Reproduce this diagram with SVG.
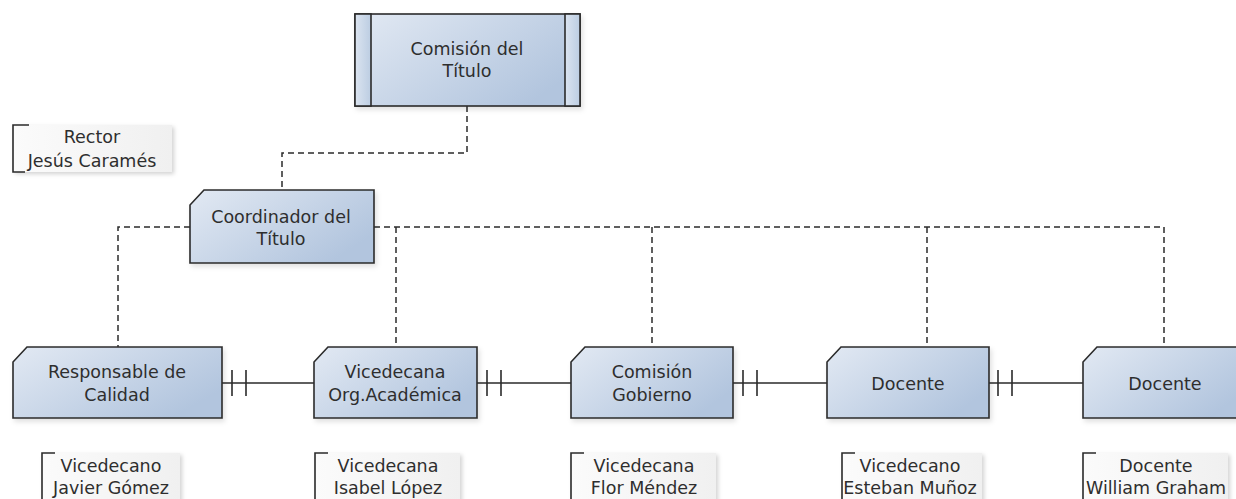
<svg xmlns="http://www.w3.org/2000/svg" width="1236" height="499" viewBox="0 0 1236 499">
  <style>
    .lbl { font-family: "DejaVu Sans", "Liberation Sans", sans-serif; font-size: 17.5px; fill: #2e2e2e; text-anchor: middle; }
    .box { fill: url(#boxFill); stroke: #2b2b2b; stroke-width: 1.6; filter: url(#shadow); }
    .strip { fill: url(#stripFill); stroke: #2b2b2b; stroke-width: 1.6; }
    .note { fill: url(#noteFill); stroke: none; filter: url(#noteShadow); }
    .bracket { fill: none; stroke: #2b2b2b; stroke-width: 1.6; }
    .dash { fill: none; stroke: #2b2b2b; stroke-width: 1.5; stroke-dasharray: 6 4; }
    .solid { fill: none; stroke: #2b2b2b; stroke-width: 1.6; }
  </style>
  <defs>
    <linearGradient id="boxFill" x1="0" y1="0" x2="1" y2="0.6">
      <stop offset="0" stop-color="#e2e9f3"/>
      <stop offset="1" stop-color="#b2c5de"/>
    </linearGradient>
    <linearGradient id="stripFill" x1="0" y1="0" x2="1" y2="0">
      <stop offset="0" stop-color="#dbe4f0"/>
      <stop offset="1" stop-color="#bccde2"/>
    </linearGradient>
    <linearGradient id="noteFill" x1="0" y1="0" x2="1" y2="0">
      <stop offset="0" stop-color="#fbfbfb"/>
      <stop offset="1" stop-color="#f0f0f0"/>
    </linearGradient>
    <filter id="shadow" x="-10%" y="-10%" width="130%" height="140%">
      <feDropShadow dx="2" dy="3" stdDeviation="2.5" flood-color="#000" flood-opacity="0.12"/>
    </filter>
    <filter id="noteShadow" x="-10%" y="-20%" width="130%" height="150%">
      <feDropShadow dx="2" dy="2" stdDeviation="2" flood-color="#000" flood-opacity="0.18"/>
    </filter>
  </defs>

  <rect width="1236" height="499" fill="#ffffff"/>

  <!-- connectors -->
  <g id="connectors">
    <!-- Comisión del Título to Coordinador -->
    <path class="dash" d="M467 106 V153 H282 V190"/>
    <!-- Coordinador to the row of roles -->
    <path class="dash" d="M190 227 H118 V347"/>
    <path class="dash" d="M374 227 H1164 V347"/>
    <path class="dash" d="M396 227 V347"/>
    <path class="dash" d="M652 227 V347"/>
    <path class="dash" d="M927 227 V347"/>
    <!-- one-to-one links between neighbouring roles -->
    <path class="solid" d="M222 383 H314 M232 370 V396 M246 370 V396"/>
    <path class="solid" d="M477 383 H571 M487 370 V396 M501 370 V396"/>
    <path class="solid" d="M733 383 H827 M743 370 V396 M757 370 V396"/>
    <path class="solid" d="M989 383 H1083 M998 370 V396 M1012 370 V396"/>
  </g>

  <!-- Comisión del Título -->
  <g id="comision-titulo">
    <rect class="box" x="355" y="14" width="225" height="92"/>
    <rect class="strip" x="355" y="14" width="16" height="92"/>
    <rect class="strip" x="565" y="14" width="15" height="92"/>
    <text class="lbl" x="467" y="55">Comisión del</text>
    <text class="lbl" x="467" y="77">Título</text>
  </g>

  <!-- Rector note -->
  <g id="rector">
    <rect class="note" x="13" y="125" width="159" height="47"/>
    <path class="bracket" d="M29 125 H13 V172 H25"/>
    <text class="lbl" x="92" y="143">Rector</text>
    <text class="lbl" x="92" y="167">Jesús Caramés</text>
  </g>

  <!-- Coordinador del Título -->
  <g id="coordinador">
    <path class="box" d="M204 190 H374 V263 H190 V205 Z"/>
    <text class="lbl" x="281" y="223">Coordinador del</text>
    <text class="lbl" x="281" y="245">Título</text>
  </g>

  <!-- Responsable de Calidad -->
  <g id="responsable">
    <path class="box" d="M27 347 H222 V418 H13 V362 Z"/>
    <text class="lbl" x="117" y="378">Responsable de</text>
    <text class="lbl" x="117" y="401">Calidad</text>
  </g>

  <!-- Vicedecana Org.Académica -->
  <g id="vicedecana-org">
    <path class="box" d="M328 347 H477 V418 H314 V362 Z"/>
    <text class="lbl" x="395" y="378">Vicedecana</text>
    <text class="lbl" x="395" y="401">Org.Académica</text>
  </g>

  <!-- Comisión Gobierno -->
  <g id="comision-gobierno">
    <path class="box" d="M585 347 H733 V418 H571 V362 Z"/>
    <text class="lbl" x="652" y="378">Comisión</text>
    <text class="lbl" x="652" y="401">Gobierno</text>
  </g>

  <!-- Docente -->
  <g id="docente-1">
    <path class="box" d="M841 347 H989 V418 H827 V362 Z"/>
    <text class="lbl" x="908" y="390">Docente</text>
  </g>

  <!-- Docente -->
  <g id="docente-2">
    <path class="box" d="M1097 347 H1248 V418 H1083 V362 Z"/>
    <text class="lbl" x="1165" y="390">Docente</text>
  </g>

  <!-- name notes under each role -->
  <g id="note-javier">
    <rect class="note" x="42" y="453" width="138" height="60"/>
    <path class="bracket" d="M55 453 H42 V505"/>
    <text class="lbl" x="111" y="472">Vicedecano</text>
    <text class="lbl" x="111" y="494">Javier Gómez</text>
  </g>
  <g id="note-isabel">
    <rect class="note" x="315" y="453" width="145" height="60"/>
    <path class="bracket" d="M328 453 H315 V505"/>
    <text class="lbl" x="388" y="472">Vicedecana</text>
    <text class="lbl" x="388" y="494">Isabel López</text>
  </g>
  <g id="note-flor">
    <rect class="note" x="571" y="453" width="145" height="60"/>
    <path class="bracket" d="M584 453 H571 V505"/>
    <text class="lbl" x="644" y="472">Vicedecana</text>
    <text class="lbl" x="644" y="494">Flor Méndez</text>
  </g>
  <g id="note-esteban">
    <rect class="note" x="842" y="453" width="140" height="60"/>
    <path class="bracket" d="M855 453 H842 V505"/>
    <text class="lbl" x="910" y="472">Vicedecano</text>
    <text class="lbl" x="910" y="494">Esteban Muñoz</text>
  </g>
  <g id="note-william">
    <rect class="note" x="1083" y="453" width="145" height="60"/>
    <path class="bracket" d="M1096 453 H1083 V505"/>
    <text class="lbl" x="1156" y="472">Docente</text>
    <text class="lbl" x="1156" y="494">William Graham</text>
  </g>
</svg>
